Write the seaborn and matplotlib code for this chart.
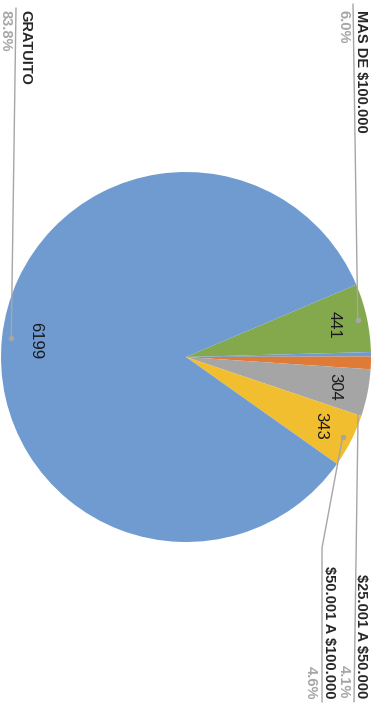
import numpy as np
import seaborn as sns
import matplotlib.pyplot as plt

# data (chart is drawn rotated 90 degrees clockwise, as in the reference)
categories = ["MAS DE $100.000", "HASTA $10.000", "$10.001 A $25.000",
              "$25.001 A $50.000", "$50.001 A $100.000", "GRATUITO"]
values = [441, 28, 82, 304, 343, 6199]
colors = ["#84A94C", "#6F9BD1", "#E07A37", "#A5A5A5", "#F0BE2F", "#6F9BD1"]
show_label = [True, False, False, True, True, True]

sns.set_theme(style="white")
plt.rcParams['font.family'] = ['Liberation Sans', 'DejaVu Sans']
plt.rcParams['text.parse_math'] = False

W, H = 379, 705
fig = plt.figure(figsize=(W / 100, H / 100), dpi=100)
ax = fig.add_axes([0, 0, 1, 1])

def P(x, y):
    # image pixel coords -> data coords (y up)
    return x, H - y

cx, cy = P(186, 357)
R = 185
wedges, _ = ax.pie(values, colors=colors, startangle=23, counterclock=False,
                   center=(cx, cy), radius=R, frame=False,
                   wedgeprops=dict(linewidth=0))
ax.set_xlim(0, W)
ax.set_ylim(0, H)
ax.set_aspect('equal')
ax.axis('off')

total = sum(values)
line_c = "#A6A6A6"

# label layout (baseline x, start/end y) and leader path end points
layout = {
    "GRATUITO": dict(name=(21, 10), pct=(2, 10), ha='left', path=[(16, 8)]),
    "MAS DE $100.000": dict(name=(357, 10), pct=(340, 10), ha='left', path=[(353, 4)]),
    "$25.001 A $50.000": dict(name=(357, 698), pct=(340, 698), ha='right', path=[(354, 702)]),
    "$50.001 A $100.000": dict(name=(325, 699), pct=(307, 699), ha='right',
                               path=[(322, 548), (322, 702)]),
}

for w, cat, v, show in zip(wedges, categories, values, show_label):
    if not show:
        continue
    mid = np.deg2rad((w.theta1 + w.theta2) / 2)
    # value inside the slice
    tx, ty = cx + 0.82 * R * np.cos(mid), cy + 0.82 * R * np.sin(mid)
    ax.text(tx, ty, f"{v}", rotation=-90, ha='center', va='center',
            fontsize=12, color="#1a1a1a")
    # leader dot + line
    dx, dy = cx + 0.95 * R * np.cos(mid), cy + 0.95 * R * np.sin(mid)
    ax.plot(dx, dy, 'o', color=line_c, ms=4, mec='none')
    lay = layout[cat]
    pts = [(dx, dy)] + [P(*p) for p in lay['path']]
    ax.plot([p[0] for p in pts], [p[1] for p in pts], color=line_c, lw=1)
    # category name + percentage
    ax.text(*P(*lay['name']), cat, rotation=-90, rotation_mode='anchor',
            ha=lay['ha'], va='baseline', fontsize=10.5, fontweight='bold', color="#262626")
    ax.text(*P(*lay['pct']), f"{v / total * 100:.1f}%", rotation=-90, rotation_mode='anchor',
            ha=lay['ha'], va='baseline', fontsize=10.5, fontweight='bold', color="#A6A6A6")

fig.savefig("out.png", dpi=100)
